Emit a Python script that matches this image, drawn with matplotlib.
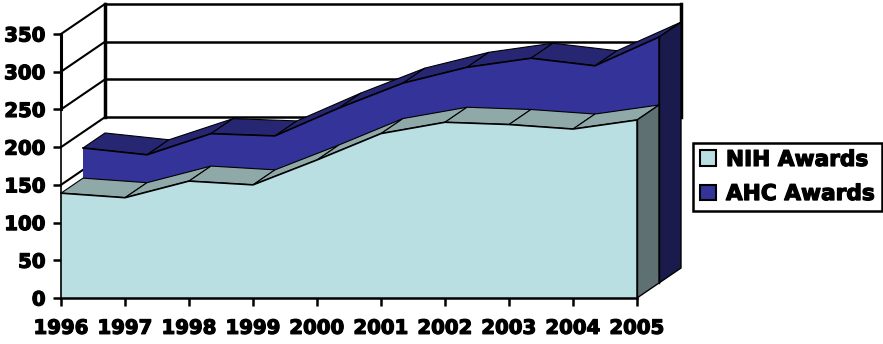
import matplotlib
matplotlib.use("Agg")
import matplotlib.pyplot as plt
import matplotlib.patheffects as pe
from matplotlib.patches import Patch

years = ["1996", "1997", "1998", "1999", "2000", "2001", "2002", "2003", "2004", "2005"]
nih_awards = [139, 133, 155, 150, 183, 218, 233, 230, 224, 236]
ahc_awards = [179, 170, 198, 195, 232, 265, 286, 298, 288, 326]
y_ticks = [0, 50, 100, 150, 200, 250, 300, 350]
wall_lines = [350, 300, 250, 200]
side_lines = [350, 300, 250, 200, 150]

NIH_FRONT, NIH_TOP, NIH_SIDE = "#b9dfe2", "#8fa8a8", "#5f7073"
AHC_FRONT, AHC_TOP, AHC_SIDE = "#333399", "#262673", "#1a1a4d"

# depth of the whole 3D box, in x categories and y units
DEPTH_X = 44 / 64
DEPTH_Y = 30 / 0.754

W, H = 883, 344

# heavier lettering than plain bold
HEAVY = [pe.withStroke(linewidth=0.9, foreground="black")]


def proj(i, v, depth):
    return i + depth * DEPTH_X, v + depth * DEPTH_Y


def draw_ribbon(ax, values, d0, d1, front, top, side, z):
    n = len(values)
    # top surface, one panel per year
    for i in range(n - 1):
        pts = [proj(i, values[i], d0), proj(i + 1, values[i + 1], d0),
               proj(i + 1, values[i + 1], d1), proj(i, values[i], d1)]
        ax.fill(*zip(*pts), facecolor=top, edgecolor="black", lw=0.8, zorder=z, clip_on=False)
    # front face
    xs, ys = zip(*[proj(i, values[i], d0) for i in range(n)])
    x0, y0 = proj(0, 0, d0)
    x1, y1 = proj(n - 1, 0, d0)
    ax.fill([x0, *xs, x1], [y0, *ys, y1], facecolor=front, edgecolor="none", zorder=z + 0.1, clip_on=False)
    ax.plot(xs, ys, color="black", lw=1.2, zorder=z + 0.2, clip_on=False)
    ax.plot([x1, x1], [y1, ys[-1]], color="black", lw=1, zorder=z + 0.2, clip_on=False)
    # right end
    pts = [proj(n - 1, values[-1], d0), proj(n - 1, values[-1], d1),
           proj(n - 1, 0, d1), proj(n - 1, 0, d0)]
    ax.fill(*zip(*pts), facecolor=side, edgecolor="black", lw=1, zorder=z + 0.1, clip_on=False)


fig = plt.figure(figsize=(W / 100, H / 100), dpi=100)
ax = fig.add_axes([61 / W, 1 - 298 / H, (637 - 61) / W, (298 - 34) / H])
ax.patch.set_visible(False)
ax.set_xlim(0, len(years) - 1)
ax.set_ylim(0, 350)

# back wall and left side wall
end = len(years) - 1
for v in wall_lines:
    ax.plot(*zip(proj(0, v, 1), proj(end, v, 1)), color="black", lw=1.8, zorder=1, clip_on=False)
for v in side_lines:
    ax.plot(*zip(proj(0, v, 0), proj(0, v, 1)), color="black", lw=1.5, zorder=1, clip_on=False)
ax.plot(*zip(proj(0, 200, 1), proj(0, 350, 1)), color="black", lw=2.5, zorder=1, clip_on=False)
ax.plot(*zip(proj(end, 200, 1), proj(end, 350, 1)), color="black", lw=2.5, zorder=1, clip_on=False)
ax.plot([0, 0], [250, 350], color="black", lw=2.2, zorder=1, clip_on=False)

draw_ribbon(ax, ahc_awards, 0.5, 1.0, AHC_FRONT, AHC_TOP, AHC_SIDE, 1.2)
draw_ribbon(ax, nih_awards, 0.0, 0.5, NIH_FRONT, NIH_TOP, NIH_SIDE, 1.6)

for s in ("top", "right"):
    ax.spines[s].set_visible(False)
ax.spines["left"].set_linewidth(1.2)
ax.spines["bottom"].set_linewidth(1.8)

ax.set_xticks(range(len(years)), years)
ax.set_yticks(y_ticks)
ax.tick_params(axis="both", length=6, width=1.8, pad=5, labelsize=14.2)
ax.tick_params(axis="x", pad=9)
for label in ax.get_xticklabels() + ax.get_yticklabels():
    label.set_fontweight("bold")
    label.set_color("black")
    label.set_path_effects(HEAVY)

handles = [Patch(facecolor=NIH_FRONT, edgecolor="black", lw=1.5, label="NIH Awards"),
           Patch(facecolor=AHC_FRONT, edgecolor="black", lw=1.5, label="AHC Awards")]
leg = fig.legend(handles=handles, loc="upper left",
                 bbox_to_anchor=(693 / W, 1 - 143 / H),
                 prop={"weight": "bold", "size": 15.6},
                 fancybox=False, framealpha=1, edgecolor="black",
                 handlelength=0.75, handleheight=0.75, handletextpad=0.45,
                 labelspacing=0.65, borderpad=0.32, borderaxespad=0)
leg.get_frame().set_linewidth(1.8)
for text in leg.get_texts():
    text.set_path_effects(HEAVY)

fig.savefig("out.png", dpi=100)
